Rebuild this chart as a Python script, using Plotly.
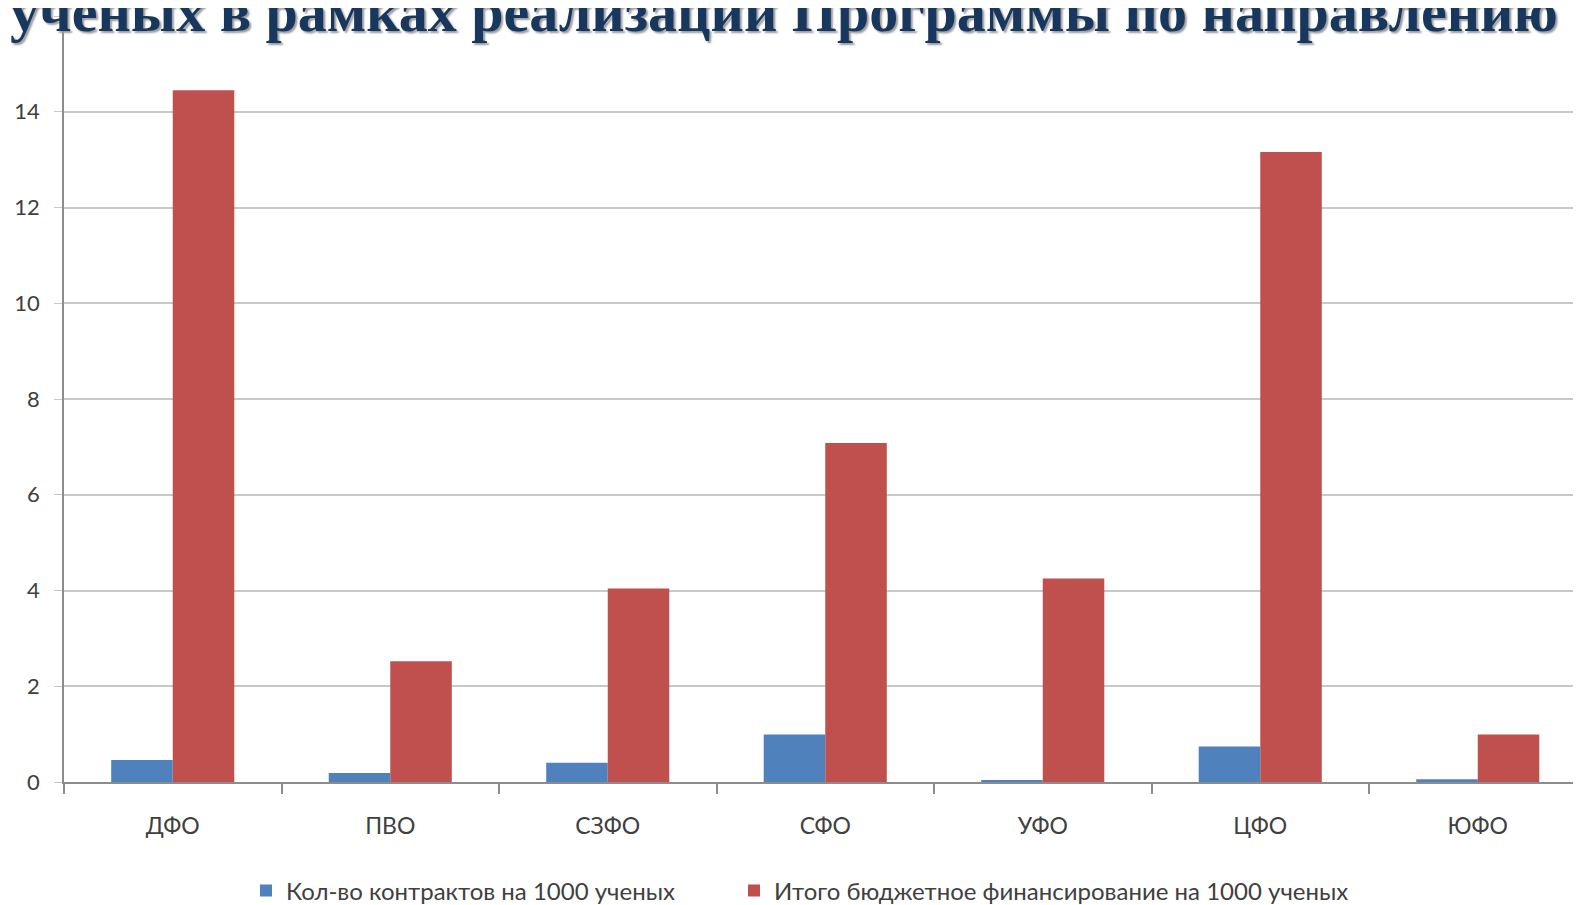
import plotly.graph_objects as go

categories = ["ДФО", "ПВО", "СЗФО", "СФО", "УФО", "ЦФО", "ЮФО"]
contracts = [0.46, 0.19, 0.40, 0.99, 0.04, 0.74, 0.06]
funding = [14.45, 2.52, 4.04, 7.08, 4.25, 13.16, 0.99]
series_names = ["Кол-во контрактов на 1000 ученых",
                "Итого бюджетное финансирование на 1000 ученых"]
y_ticks = [0, 2, 4, 6, 8, 10, 12, 14, 16]
title_text = "ученых в рамках реализации Программы по направлению 1"

# page has an 8px body margin; figure coordinates are page coordinates minus 8
OFF = 8
W, H = 1581, 905
ML, MR, MT = 64 - OFF, 0, 16 - OFF
MB = H - (782 - OFF)
PW, PH = W - ML - MR, H - MT - MB
cat_w = 217.5
x_max = (W + OFF - 64) / cat_w - 0.5

font_fam = "Lato, Open Sans, sans-serif"

fig = go.Figure()
fig.add_trace(go.Bar(x=categories, y=contracts, name=series_names[0], legend="legend",
                     marker=dict(color="#4F81BD", line=dict(width=0))))
fig.add_trace(go.Bar(x=categories, y=funding, name=series_names[1], legend="legend2",
                     marker=dict(color="#C0504D", line=dict(width=0))))

leg_y = -((891 - OFF) - (H - MB)) / PH
leg_common = dict(orientation="h", xanchor="left", y=leg_y, yanchor="middle",
                  font=dict(size=24, color="#404040"), itemwidth=30,
                  bgcolor="rgba(0,0,0,0)")

fig.update_layout(
    width=W, height=H,
    margin=dict(l=ML, r=MR, t=MT, b=MB, pad=0, autoexpand=False),
    paper_bgcolor="white", plot_bgcolor="white",
    barmode="group", bargap=0.434, bargroupgap=0,
    font=dict(family=font_fam, color="#404040", size=22),
    showlegend=True,
    legend=dict(x=(252 - 14 - ML) / PW, **leg_common),
    legend2=dict(x=(740 - 14 - ML) / PW, **leg_common),
    xaxis=dict(range=[-0.5, x_max], showline=True, linecolor="#8C8C8C", linewidth=1.5,
               ticks="outside", tickson="boundaries", ticklen=10, tickcolor="#8C8C8C",
               tickwidth=1.5, showgrid=False, ticklabelstandoff=23, automargin=False,
               tickfont=dict(size=23, color="#404040"), fixedrange=True),
    yaxis=dict(range=[0, 16], tickvals=y_ticks, showline=True, linecolor="#8C8C8C",
               linewidth=1.5, ticks="outside", ticklen=8, tickcolor="#C8C8C8",
               showgrid=True, gridcolor="#C8C8C8", gridwidth=1.5, zeroline=False,
               ticklabelstandoff=10, automargin=False,
               tickfont=dict(size=22, color="#404040")),
    annotations=[dict(text="<b>" + title_text + "</b>", xref="paper", yref="paper",
                      x=-ML / PW, xanchor="left",
                      y=(H - MB - 38) / PH, yanchor="bottom", showarrow=False,
                      font=dict(family="Liberation Serif, DejaVu Serif, serif", size=58,
                                color="#17375E", shadow="2px 2px 2px #9a9a9a"))],
)

fig.write_html("out.html")
